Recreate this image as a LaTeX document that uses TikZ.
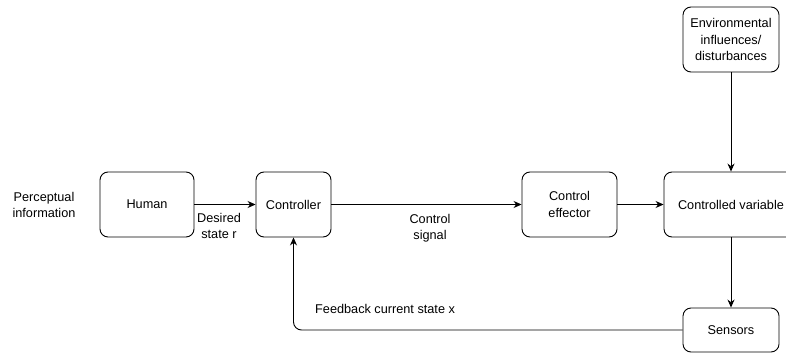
\documentclass[tikz,border=0pt]{standalone}
\usepackage{fontspec}
\setmainfont{Liberation Sans}
\usetikzlibrary{arrows.meta,positioning}

\begin{document}
\begin{tikzpicture}[x=1pt,y=-1pt,
  box/.style={draw,line width=0.9pt,rounded corners=8pt,align=center,inner sep=0pt},
  arr/.style={line width=0.9pt,-{Stealth[length=8pt,width=7pt]}},
  lbl/.style={align=center,inner sep=0pt}]
  \useasboundingbox (0,0) rectangle (786,353);
  \fontsize{12.7}{16.5}\selectfont
  % blocks
  \node[box,minimum width=94pt,minimum height=65pt] (human) at (147,204.5) {Human};
  \node[box,minimum width=75pt,minimum height=65pt] (ctrl) at (293.5,204.5) {Controller};
  \node[box,minimum width=95pt,minimum height=65pt] (eff) at (569.5,204.5) {Control\\effector};
  \node[box,minimum width=134pt,minimum height=65pt] (var) at (731,204.5) {Controlled variable};
  \node[box,minimum width=96pt,minimum height=65pt] (env) at (731,39.5) {Environmental\\influences/\\disturbances};
  \node[box,minimum width=96pt,minimum height=44pt] (sens) at (731,330) {Sensors};
  % texts
  \node[lbl] (percep) at (44,205) {Perceptual\\information};
  \node[lbl] (desired) at (219,226) {Desired\\state r};
  \node[lbl] (signal) at (430,228) {Control\\signal};
  \node[lbl,anchor=west] (fb) at (315,309) {Feedback current state x};
  % connectors
  \draw[arr] (human) -- (ctrl);
  \draw[arr] (ctrl) -- (eff);
  \draw[arr] (eff) -- (var);
  \draw[arr] (env) -- (var);
  \draw[arr] (var) -- (sens);
  \draw[arr,rounded corners=8pt] (sens.west) -| (ctrl.south);
\end{tikzpicture}
\end{document}
